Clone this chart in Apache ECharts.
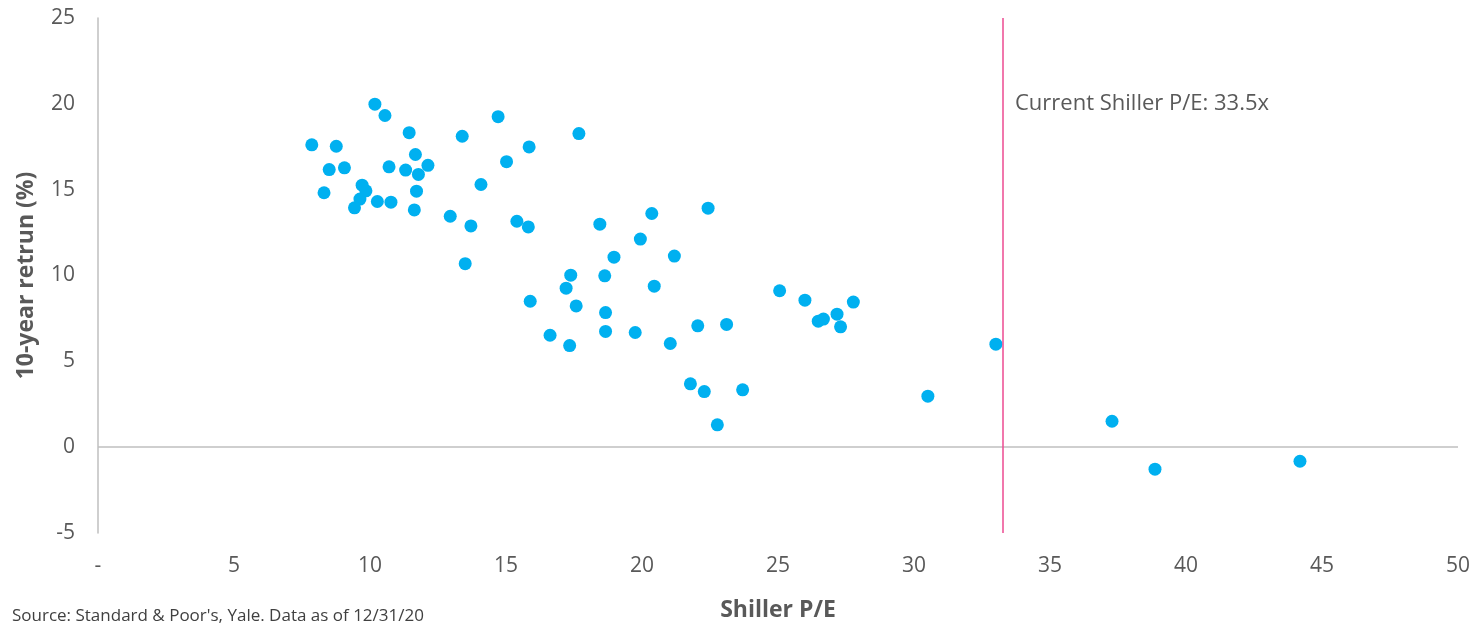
<!DOCTYPE html>
<html>
<head>
<meta charset="utf-8">
<script src="https://cdn.jsdelivr.net/npm/echarts@6/dist/echarts.min.js"></script>
<style>
  html, body { margin: 0; padding: 0; background: #fff; }
  #chart { width: 1478px; height: 623px; }
</style>
</head>
<body>
<div id="chart"></div>
<script>
// Shiller P/E (x) vs 10-year return % (y)
var shillerPE = [
  10.18, 10.55, 11.44, 13.39, 14.71, 17.68, 7.86, 8.76, 11.67, 8.50,
  9.06, 10.70, 11.31, 11.78, 12.13, 15.85, 15.02, 14.08, 9.71, 9.85,
  11.71, 8.31, 9.63, 10.27, 10.77, 9.43, 11.63, 12.95, 13.71, 15.40,
  15.82, 18.45, 13.50, 20.36, 22.43, 19.94, 18.97, 21.19, 17.38, 18.63,
  17.21, 20.45, 15.89, 17.58, 18.66, 16.62, 17.34, 18.66, 19.75, 21.04,
  22.05, 23.11, 25.06, 25.99, 27.77, 27.17, 26.48, 26.67, 27.30, 21.78,
  22.29, 23.70, 22.77, 30.51, 33.01, 37.28, 38.86, 44.19
];
var tenYearReturn = [
  19.98, 19.32, 18.32, 18.11, 19.25, 18.27, 17.61, 17.53, 17.05, 16.17,
  16.27, 16.33, 16.14, 15.89, 16.42, 17.49, 16.63, 15.30, 15.26, 14.93,
  14.91, 14.82, 14.45, 14.31, 14.27, 13.94, 13.82, 13.45, 12.89, 13.16,
  12.83, 12.99, 10.69, 13.61, 13.92, 12.12, 11.07, 11.13, 10.02, 9.98,
  9.26, 9.38, 8.50, 8.23, 7.84, 6.52, 5.92, 6.74, 6.68, 6.04,
  7.07, 7.15, 9.11, 8.56, 8.45, 7.75, 7.34, 7.46, 7.01, 3.69,
  3.24, 3.34, 1.30, 2.97, 6.00, 1.51, -1.28, -0.82
];
var currentPE = 33.25;
var currentLabel = 'Current Shiller P/E: 33.5x';

var points = shillerPE.map(function (x, i) { return [x, tenYearReturn[i]]; });

var chart = echarts.init(document.getElementById('chart'));
var font = '"Open Sans", "Noto Sans", sans-serif';

var option = {
  backgroundColor: '#fff',
  animation: false,
  textStyle: { fontFamily: font },
  grid: { left: 98, right: 20, top: 18, bottom: 90, outerBoundsMode: 'none' },
  xAxis: {
    type: 'value',
    min: 0, max: 50, interval: 5,
    name: 'Shiller P/E',
    nameLocation: 'middle',
    nameGap: 66,
    nameTextStyle: { color: '#595959', fontSize: 23, fontWeight: 'bold', fontFamily: font },
    axisLine: { show: false },
    axisTick: { show: false },
    splitLine: { show: false },
    axisLabel: {
      color: '#595959', fontSize: 21, margin: 23, fontFamily: font,
      formatter: function (v) { return v === 0 ? '-' : String(v); }
    }
  },
  yAxis: {
    type: 'value',
    min: -5, max: 25, interval: 5,
    name: '10-year retrun (%)',
    nameLocation: 'middle',
    nameGap: 60,
    nameTextStyle: { color: '#595959', fontSize: 23, fontWeight: 'bold', fontFamily: font },
    axisLine: { show: true, onZero: false, lineStyle: { color: '#BFBFBF', width: 1.5 } },
    axisTick: { show: false },
    splitLine: { show: false },
    axisLabel: { color: '#595959', fontSize: 21, margin: 23, fontFamily: font }
  },
  series: [{
    type: 'scatter',
    data: points,
    symbolSize: 13,
    itemStyle: { color: '#00B0F0', opacity: 1 },
    z: 3,
    markLine: {
      silent: true,
      symbol: 'none',
      data: [
        { yAxis: 0, lineStyle: { color: '#BFBFBF', width: 1.5, type: 'solid' }, label: { show: false } },
        {
          xAxis: currentPE,
          lineStyle: { color: '#EC4A91', width: 1.5, type: 'solid' },
          label: { show: false }
        }
      ]
    }
  }],
  graphic: [
    {
      type: 'text', left: 1015, top: 93,
      style: { text: currentLabel, fill: '#595959', fontSize: 22, fontFamily: font }
    },
    {
      type: 'text', left: 12, top: 608,
      style: { text: "Source: Standard & Poor's, Yale. Data as of 12/31/20", fill: '#404040', fontSize: 17, fontFamily: font }
    }
  ]
};

chart.setOption(option);
</script>
</body>
</html>
